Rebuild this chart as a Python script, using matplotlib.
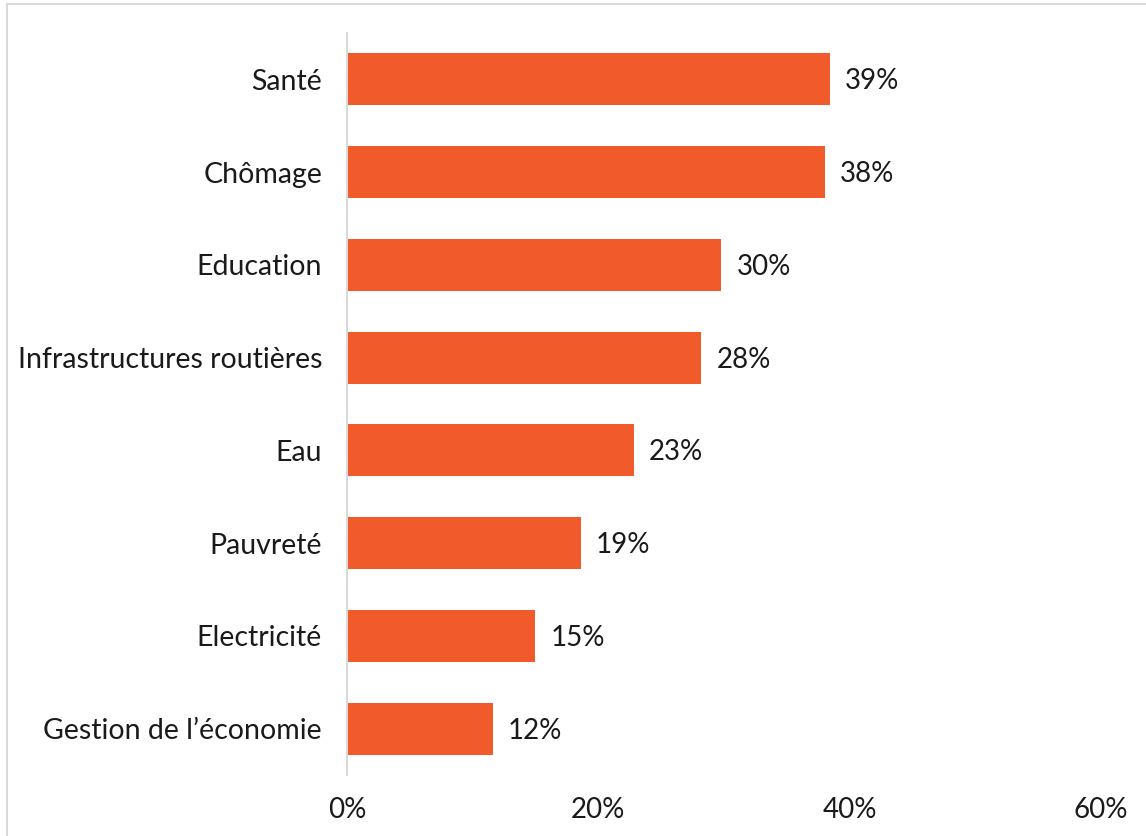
import matplotlib
matplotlib.use("Agg")
import matplotlib.pyplot as plt
from matplotlib.lines import Line2D

categories = ["Santé", "Chômage", "Education", "Infrastructures routières",
              "Eau", "Pauvreté", "Electricité", "Gestion de l’économie"]
values = [38.4, 38.0, 29.8, 28.2, 22.8, 18.6, 15.0, 11.6]
value_labels = ["39%", "38%", "30%", "28%", "23%", "19%", "15%", "12%"]
xticks = [0, 20, 40, 60]
xtick_labels = ["0%", "20%", "40%", "60%"]

plt.rcParams['font.family'] = ['Lato', 'DejaVu Sans']

fig = plt.figure(figsize=(11.46, 8.36), dpi=100)
ax = fig.add_axes([0.3028, 0.0730, 0.6579, 0.8875])

bar_color = "#F15A2B"
text_color = "#1a1a1a"
ypos = list(range(len(categories)))
ax.barh(ypos, values, height=0.56, color=bar_color)

for y, v, lab in zip(ypos, values, value_labels):
    ax.annotate(lab, xy=(v, y), xytext=(11, -1.5), textcoords="offset points",
                ha="left", va="center", fontsize=20, color=text_color)

ax.set_ylim(len(categories) - 0.5, -0.5)
ax.set_xlim(0, 60)
ax.set_yticks(ypos)
ax.set_yticklabels(categories, fontsize=20.5, color=text_color)
ax.set_xticks(xticks)
ax.set_xticklabels(xtick_labels, fontsize=20, color=text_color)
ax.tick_params(axis="both", length=0)
ax.tick_params(axis="y", pad=18)
ax.tick_params(axis="x", pad=16)

for s in ["top", "right", "bottom"]:
    ax.spines[s].set_visible(False)
ax.spines["left"].set_color("#d9d9d9")
ax.spines["left"].set_linewidth(1.5)

# figure border (top and left visible)
W, H = 1146, 836
fig.add_artist(Line2D([7 / W, 1.0], [1 - 3.5 / H, 1 - 3.5 / H], color="#d9d9d9", lw=1.5))
fig.add_artist(Line2D([7 / W, 7 / W], [0.0, 1 - 3.5 / H], color="#d9d9d9", lw=1.5))

fig.savefig("out.png", dpi=100, facecolor="white")
